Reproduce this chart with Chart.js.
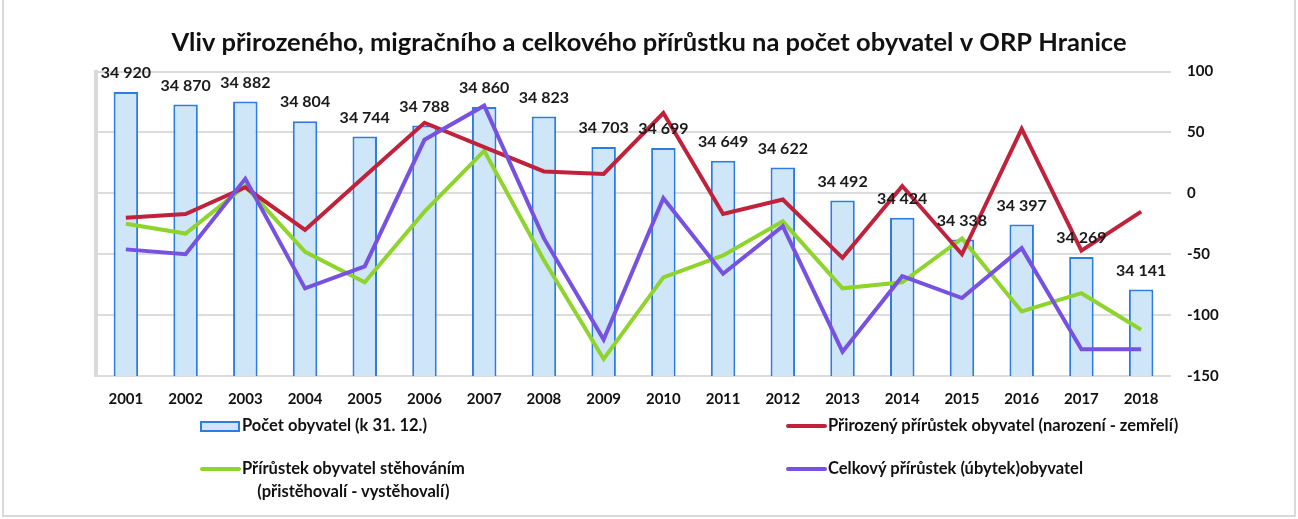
<!DOCTYPE html>
<html lang="cs">
<head>
<meta charset="utf-8">
<title>Vliv přirozeného, migračního a celkového přírůstku</title>
<script src="https://cdn.jsdelivr.net/npm/chart.js@4/dist/chart.umd.min.js"></script>
<style>
    html, body { margin: 0; padding: 0; background: #fff; }
    body { width: 1298px; height: 519px; position: relative; overflow: hidden; font-family: Lato, "Open Sans", sans-serif; }
    #frame { position: absolute; left: 2px; top: -2px; width: 1290px; height: 515px; border: 2px solid #d9d9d9; }
    #chartBox { position: absolute; left: 0; top: 0; width: 1298px; height: 519px; }
    .legend-item { position: absolute; font-weight: bold; font-size: 16.5px; color: #111; white-space: nowrap; }
    .legend-item .swatch { position: absolute; }
    .legend-item .text { position: absolute; text-align: center; line-height: 23px; }
</style>
</head>
<body>
<div id="frame"></div>
<div id="chartBox"><canvas id="populationChart"></canvas></div>
<div id="legend"></div>

<script>
// --- Datos ---
const years = ['2001', '2002', '2003', '2004', '2005', '2006', '2007', '2008', '2009',
               '2010', '2011', '2012', '2013', '2014', '2015', '2016', '2017', '2018'];
const population = [34920, 34870, 34882, 34804, 34744, 34788, 34860, 34823, 34703,
                    34699, 34649, 34622, 34492, 34424, 34338, 34397, 34269, 34141];
const naturalGrowth = [-20, -17, 5, -30, 14, 58, 38, 18, 16, 66, -17, -5, -53, 6, -50, 53, -47, -15];
const migrationGrowth = [-25, -33, 6, -48, -73, -15, 35, -55, -136, -69, -51, -23, -78, -73, -37, -97, -82, -112];
const totalGrowth = [-46, -50, 12, -78, -60, 44, 72, -37, -120, -4, -66, -27, -130, -68, -86, -45, -128, -128];
const rightTicks = [100, 50, 0, -50, -100, -150];

const labelPopulation = 'Počet obyvatel (k 31. 12.)';
const labelNatural = 'Přirozený přírůstek obyvatel (narození - zemřelí)';
const labelMigration = ['Přírůstek obyvatel stěhováním', '(přistěhovalí - vystěhovalí)'];
const labelTotal = 'Celkový přírůstek (úbytek)obyvatel';

const FONT = 'Lato, "Open Sans", sans-serif';
const BAR_DS = 3;

function formatThousands(v) {
    return String(v).replace(/\B(?=(\d{3})+(?!\d))/g, ' ');
}

// Etiquetas de valor encima de las barras
const barLabels = {
    id: 'barLabels',
    afterDraw(chart) {
        const ctx = chart.ctx;
        const meta = chart.getDatasetMeta(BAR_DS);
        ctx.save();
        ctx.font = 'bold 16px ' + FONT;
        ctx.fillStyle = '#1a1a1a';
        ctx.textAlign = 'center';
        ctx.textBaseline = 'middle';
        meta.data.forEach((bar, i) => {
            ctx.fillText(formatThousands(population[i]), bar.x, bar.y - 19);
        });
        ctx.restore();
    }
};

const ctx = document.getElementById('populationChart').getContext('2d');
const chart = new Chart(ctx, {
    type: 'bar',
    data: {
        labels: years,
        datasets: [
            { type: 'line', label: labelNatural, data: naturalGrowth, yAxisID: 'y1', borderColor: '#c0223b', backgroundColor: '#c0223b', borderWidth: 4, pointRadius: 0, tension: 0, order: 1 },
            { type: 'line', label: labelMigration.join(' '), data: migrationGrowth, yAxisID: 'y1', borderColor: '#8ed42c', backgroundColor: '#8ed42c', borderWidth: 4, pointRadius: 0, tension: 0, order: 1 },
            { type: 'line', label: labelTotal, data: totalGrowth, yAxisID: 'y1', borderColor: '#7752e0', backgroundColor: '#7752e0', borderWidth: 4, pointRadius: 0, tension: 0, order: 0 },
            { type: 'bar', label: labelPopulation, data: population, yAxisID: 'y', backgroundColor: '#cfe6f9', borderColor: '#2b7de3', borderWidth: 2, borderSkipped: 'bottom', barPercentage: 0.82, categoryPercentage: 0.5, order: 5 }
        ]
    },
    options: {
        responsive: true,
        maintainAspectRatio: false,
        animation: false,
        layout: { padding: { left: 0, right: 0, top: 0, bottom: 103 } },
        plugins: {
            legend: { display: false },
            tooltip: { enabled: false },
            title: {
                display: true,
                text: 'Vliv přirozeného, migračního a celkového přírůstku na počet obyvatel v ORP Hranice',
                font: { family: FONT, size: 25.5, weight: 'bold' },
                color: '#111',
                padding: { top: 27, bottom: 14 }
            }
        },
        scales: {
            x: {
                offset: true,
                grid: { display: false, drawTicks: false, tickLength: 0 },
                border: { display: false },
                ticks: { color: '#111', font: { family: FONT, size: 15, weight: 'bold' }, padding: 14, maxRotation: 0 },
                afterFit(scale) { scale.height = 40; }
            },
            y: {
                position: 'left',
                min: 33800,
                max: 35000,
                grid: { display: false },
                ticks: { display: false },
                border: { display: true, color: '#d9d9d9', width: 4 },
                afterFit(scale) { scale.width = 96; }
            },
            y1: {
                position: 'right',
                min: -150,
                max: 100,
                afterBuildTicks(scale) { scale.ticks = rightTicks.map(v => ({ value: v })); },
                grid: { color: '#dcdcdc', lineWidth: 2, drawTicks: false },
                border: { display: false },
                ticks: { color: '#111', font: { family: FONT, size: 15, weight: 'bold' }, padding: 16 },
                afterFit(scale) { scale.width = 127; }
            }
        }
    },
    plugins: [barLabels]
});

// --- Leyenda HTML construida desde los datasets ---
const legendEl = document.getElementById('legend');
const legendItems = [
    { ds: 3, x: 200, y: 426, text: [labelPopulation], box: true },
    { ds: 0, x: 786, y: 426, text: [labelNatural] },
    { ds: 1, x: 200, y: 469, text: labelMigration },
    { ds: 2, x: 786, y: 469, text: [labelTotal] }
];
legendItems.forEach(item => {
    const ds = chart.data.datasets[item.ds];
    const el = document.createElement('div');
    el.className = 'legend-item';
    el.style.left = item.x + 'px';
    el.style.top = (item.y - 12) + 'px';
    const sw = document.createElement('div');
    sw.className = 'swatch';
    if (item.box) {
        sw.style.cssText = 'left:0;top:7px;width:36px;height:7px;background:' + ds.backgroundColor + ';border:2px solid ' + ds.borderColor + ';';
    } else {
        sw.style.cssText = 'left:0;top:10px;width:41px;height:4px;border-radius:2px;background:' + ds.borderColor + ';';
    }
    const tx = document.createElement('div');
    tx.className = 'text';
    tx.style.left = '42px';
    tx.style.top = '0px';
    tx.innerHTML = item.text.join('<br>');
    el.appendChild(sw);
    el.appendChild(tx);
    legendEl.appendChild(el);
});
</script>
</body>
</html>
